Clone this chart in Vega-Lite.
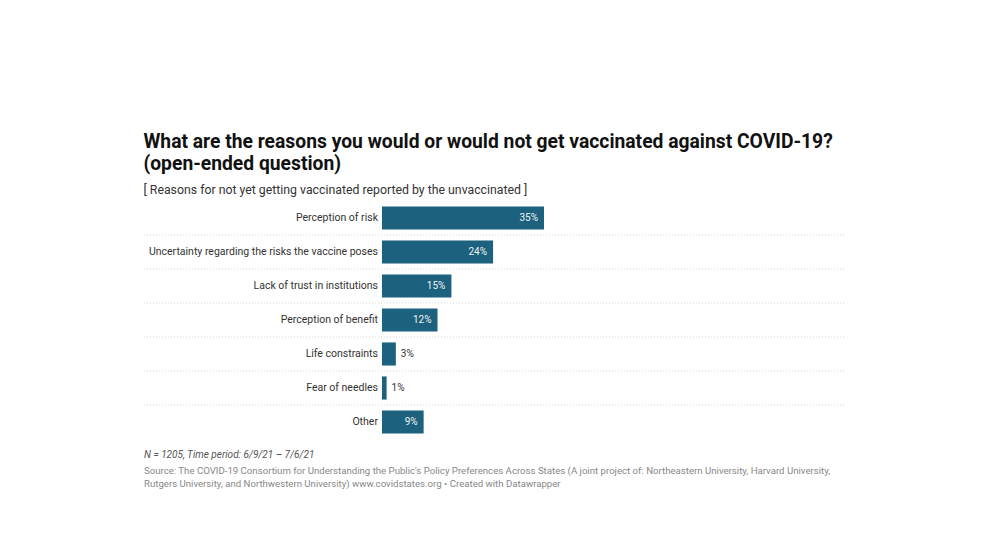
{
  "$schema": "https://vega.github.io/schema/vega-lite/v6.json",
  "background": "white",
  "padding": {"left": 143, "top": 133, "right": 0, "bottom": 0},
  "autosize": {"type": "pad"},
  "config": {"view": {"stroke": null}, "concat": {"spacing": 10}},
  "title": {
    "text": ["What are the reasons you would or would not get vaccinated against COVID-19?", "(open-ended question)"],
    "subtitle": "[ Reasons for not yet getting vaccinated reported by the unvaccinated ]",
    "anchor": "start",
    "font": "Roboto",
    "fontSize": 19.3,
    "fontWeight": "bold",
    "color": "#111111",
    "lineHeight": 22,
    "subtitleFont": "Roboto",
    "subtitleFontSize": 12.3,
    "subtitleColor": "#333333",
    "subtitlePadding": 9,
    "offset": 5
  },
  "vconcat": [
    {
      "width": 700,
      "height": 238,
      "data": {
        "values": [
          {"label": "Perception of risk", "value": 0.35},
          {"label": "Uncertainty regarding the risks the vaccine poses", "value": 0.24},
          {"label": "Lack of trust in institutions", "value": 0.15},
          {"label": "Perception of benefit", "value": 0.12},
          {"label": "Life constraints", "value": 0.03},
          {"label": "Fear of needles", "value": 0.01},
          {"label": "Other", "value": 0.09}
        ]
      },
      "encoding": {
        "y": {
          "field": "label",
          "type": "nominal",
          "axis": null,
          "scale": {
            "domain": ["Perception of risk", "Uncertainty regarding the risks the vaccine poses", "Lack of trust in institutions", "Perception of benefit", "Life constraints", "Fear of needles", "Other"],
            "paddingInner": 0,
            "paddingOuter": 0
          }
        }
      },
      "layer": [
        {
          "transform": [{"filter": "datum.label !== 'Other'"}],
          "mark": {"type": "rule", "color": "#d6d6d6", "strokeDash": [1, 2], "strokeWidth": 1},
          "encoding": {
            "y": {"field": "label", "type": "nominal", "bandPosition": 1}
          }
        },
        {
          "mark": {"type": "bar", "color": "#1c617d", "height": {"band": 0.68}},
          "encoding": {
            "x": {"field": "value", "type": "quantitative", "axis": null, "scale": {"domain": [-0.514, 0.998], "nice": false, "zero": false}}
          }
        },
        {
          "mark": {"type": "text", "align": "right", "dx": -4, "font": "Roboto", "fontSize": 10.5, "color": "#333333"},
          "encoding": {
            "x": {"datum": 0, "type": "quantitative"},
            "text": {"field": "label"}
          }
        },
        {
          "transform": [{"filter": "datum.value >= 0.05"}],
          "mark": {"type": "text", "align": "right", "dx": -6, "font": "Roboto", "fontSize": 10, "color": "#eef4f6"},
          "encoding": {
            "x": {"field": "value", "type": "quantitative"},
            "text": {"field": "value", "format": ".0%"}
          }
        },
        {
          "transform": [{"filter": "datum.value < 0.05"}],
          "mark": {"type": "text", "align": "left", "dx": 5, "font": "Roboto", "fontSize": 10, "color": "#333333"},
          "encoding": {
            "x": {"field": "value", "type": "quantitative"},
            "text": {"field": "value", "format": ".0%"}
          }
        }
      ]
    },
    {
      "width": 700,
      "height": 1,
      "title": {
        "text": "N = 1205, Time period: 6/9/21 – 7/6/21",
        "subtitle": ["Source: The COVID-19 Consortium for Understanding the Public's Policy Preferences Across States (A joint project of: Northeastern University, Harvard University,", "Rutgers University, and Northwestern University) www.covidstates.org • Created with Datawrapper"],
        "anchor": "start",
        "font": "Roboto",
        "fontSize": 10,
        "fontStyle": "italic",
        "fontWeight": "normal",
        "color": "#555555",
        "subtitleFont": "Roboto",
        "subtitleFontSize": 9.65,
        "subtitleColor": "#888888",
        "subtitleLineHeight": 13,
        "subtitlePadding": 6,
        "offset": 0
      },
      "data": {"values": [{}]},
      "mark": {"type": "text"},
      "encoding": {"text": {"value": ""}}
    }
  ]
}
